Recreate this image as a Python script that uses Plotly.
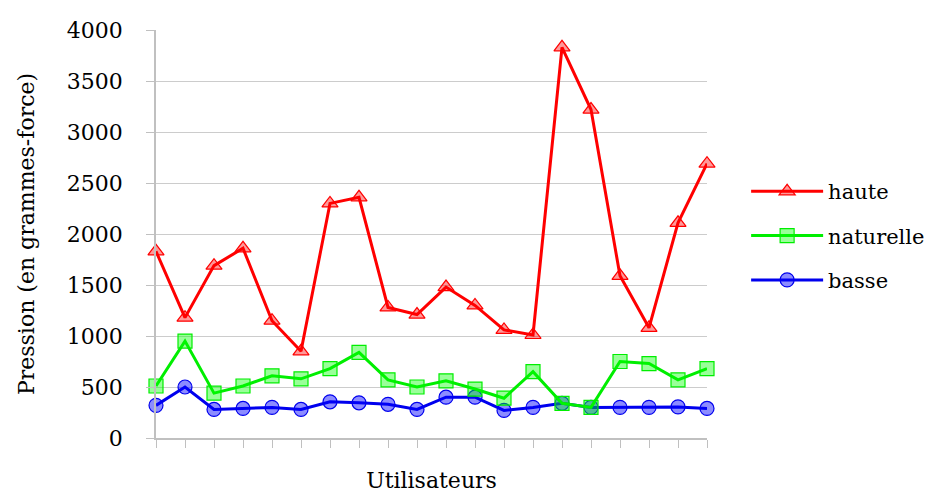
import plotly.graph_objects as go

users = list(range(1, 21))
haute = [1830, 1180, 1690, 1860, 1150, 850, 2300, 2360, 1280, 1210,
         1480, 1300, 1060, 1010, 3830, 3220, 1590, 1080, 2110, 2690]
naturelle = [510, 950, 440, 510, 610, 580, 680, 840, 570, 500,
             560, 480, 390, 650, 340, 300, 750, 730, 570, 680]
basse = [320, 500, 280, 290, 300, 280, 355, 345, 330, 280,
         400, 400, 270, 300, 340, 300, 300, 300, 305, 290]
y_ticks = [0, 500, 1000, 1500, 2000, 2500, 3000, 3500, 4000]

FONT = "DejaVu Serif"

series = [
    ("basse", basse, "#0000ee", "rgba(0,0,255,0.45)", "circle", 3),
    ("naturelle", naturelle, "#00ee00", "rgba(0,255,0,0.4)", "square", 2),
    ("haute", haute, "#ff0000", "rgba(255,0,0,0.4)", "triangle-up", 1),
]

fig = go.Figure()
for name, vals, col, fill, sym, rank in series:
    fig.add_trace(go.Scatter(
        x=users, y=vals, name=name, mode="lines+markers",
        legendgroup=name, legendrank=rank,
        line=dict(color=col, width=3),
        marker=dict(symbol=sym, size=14, color=fill, line=dict(color=col, width=1.2)),
        cliponaxis=False,
    ))

fig.update_layout(
    width=931, height=485,
    margin=dict(l=148, r=232, t=22, b=55, autoexpand=False),
    paper_bgcolor="white", plot_bgcolor="white",
    font=dict(family=FONT, size=22, color="black"),
    showlegend=True,
    legend=dict(
        x=1.071, xanchor="left", y=0.496, yanchor="middle",
        traceorder="grouped", font=dict(family=FONT, size=21),
        itemwidth=72, tracegroupgap=14, bgcolor="rgba(0,0,0,0)",
    ),
    xaxis=dict(
        range=[1, 20], tickvals=users, showticklabels=False,
        ticks="outside", ticklen=8, tickcolor="#c0c0c0", automargin=False,
        showgrid=False, zeroline=False,
        showline=True, linecolor="#c0c0c0", linewidth=1.5,
        title=dict(text="Utilisateurs", standoff=30, font=dict(size=22)),
    ),
    yaxis=dict(
        range=[0, 4000], tickvals=y_ticks, ticktext=[str(v) for v in y_ticks],
        ticks="outside", ticklen=8, tickcolor="#c0c0c0", automargin=False,
        ticklabelstandoff=19,
        showgrid=True, gridcolor="#cccccc", gridwidth=1.3,
        zeroline=False, showline=True, linecolor="#c0c0c0", linewidth=1.5,
        title=dict(text="Pression (en grammes-force)", standoff=26, font=dict(size=22)),
    ),
)

fig.write_html("out.html")
